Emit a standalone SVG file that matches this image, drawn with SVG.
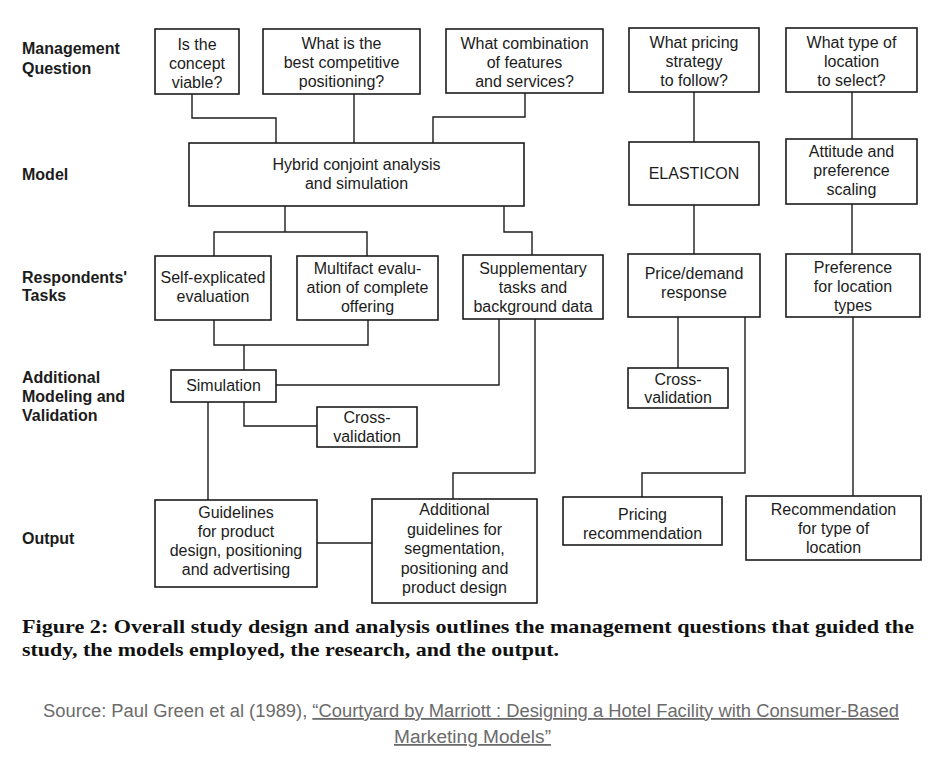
<svg xmlns="http://www.w3.org/2000/svg" width="936" height="768" viewBox="0 0 936 768">
<style>
  .bg{fill:#ffffff}
  .box{fill:#ffffff;stroke:#1c1c1c;stroke-width:1.6}
  .t{font-family:"Liberation Sans",Arial,sans-serif;font-size:16px;fill:#1c1c1c;text-anchor:middle}
  .lab{font-family:"Liberation Sans",Arial,sans-serif;font-size:16px;font-weight:bold;fill:#1c1c1c}
  .cap{font-family:"Liberation Serif","Times New Roman",serif;font-size:19px;font-weight:bold;fill:#111111}
  .src{font-family:"Liberation Sans",Arial,sans-serif;font-size:18px;fill:#6b6b6b}
  #connectors path{fill:none;stroke:#1c1c1c;stroke-width:1.4}
</style>
<rect class="bg" x="0" y="0" width="936" height="768"/>

<g id="row-labels">
  <text class="lab" x="22" y="54">Management</text>
  <text class="lab" x="22" y="74">Question</text>
  <text class="lab" x="22" y="180">Model</text>
  <text class="lab" x="22" y="283">Respondents'</text>
  <text class="lab" x="22" y="301">Tasks</text>
  <text class="lab" x="22" y="383">Additional</text>
  <text class="lab" x="22" y="402">Modeling and</text>
  <text class="lab" x="22" y="421">Validation</text>
  <text class="lab" x="22" y="544">Output</text>
</g>

<g id="connectors">
  <path d="M192,94 V118 H276 V143"/>
  <path d="M354,94 V143"/>
  <path d="M525,93 V117 H433 V143"/>
  <path d="M285,206 V232"/>
  <path d="M214,256 V232 H367 V256"/>
  <path d="M504,206 V232 H532 V255"/>
  <path d="M214,320 V345 H368 V320"/>
  <path d="M244,345 V370"/>
  <path d="M499,319 V385 H276"/>
  <path d="M244,402 V426 H317"/>
  <path d="M208,402 V500"/>
  <path d="M535,319 V473 H453 V499"/>
  <path d="M317,543 H372"/>
  <path d="M694,92 V142"/>
  <path d="M694,205 V254"/>
  <path d="M678,317 V368"/>
  <path d="M745,317 V473 H642 V497"/>
  <path d="M852,92 V139"/>
  <path d="M852,204 V254"/>
  <path d="M853,317 V496"/>
</g>

<g id="q-viable">
  <rect class="box" x="155" y="29" width="84" height="65"/>
  <text class="t" x="197" y="50">Is the</text>
  <text class="t" x="197" y="69">concept</text>
  <text class="t" x="197" y="88">viable?</text>
</g>
<g id="q-positioning">
  <rect class="box" x="263" y="29" width="157" height="65"/>
  <text class="t" x="341.5" y="49">What is the</text>
  <text class="t" x="341.5" y="68">best competitive</text>
  <text class="t" x="341.5" y="87">positioning?</text>
</g>
<g id="q-features">
  <rect class="box" x="446" y="29" width="157" height="64"/>
  <text class="t" x="524.5" y="49">What combination</text>
  <text class="t" x="524.5" y="68">of features</text>
  <text class="t" x="524.5" y="87">and services?</text>
</g>
<g id="q-pricing">
  <rect class="box" x="629" y="28" width="130" height="64"/>
  <text class="t" x="694" y="48">What pricing</text>
  <text class="t" x="694" y="67">strategy</text>
  <text class="t" x="694" y="86">to follow?</text>
</g>
<g id="q-location">
  <rect class="box" x="786" y="28" width="131" height="64"/>
  <text class="t" x="851.5" y="48">What type of</text>
  <text class="t" x="851.5" y="67">location</text>
  <text class="t" x="851.5" y="86">to select?</text>
</g>

<g id="m-hybrid">
  <rect class="box" x="189" y="143" width="335" height="63"/>
  <text class="t" x="356.5" y="170">Hybrid conjoint analysis</text>
  <text class="t" x="356.5" y="189">and simulation</text>
</g>
<g id="m-elasticon">
  <rect class="box" x="629" y="142" width="130" height="63"/>
  <text class="t" x="694" y="179">ELASTICON</text>
</g>
<g id="m-attitude">
  <rect class="box" x="786" y="139" width="131" height="65"/>
  <text class="t" x="851.5" y="157">Attitude and</text>
  <text class="t" x="851.5" y="176">preference</text>
  <text class="t" x="851.5" y="195">scaling</text>
</g>

<g id="r-self">
  <rect class="box" x="155" y="256" width="116" height="64"/>
  <text class="t" x="213" y="283">Self-explicated</text>
  <text class="t" x="213" y="302">evaluation</text>
</g>
<g id="r-multifact">
  <rect class="box" x="297" y="256" width="141" height="64"/>
  <text class="t" x="367.5" y="274">Multifact evalu-</text>
  <text class="t" x="367.5" y="293">ation of complete</text>
  <text class="t" x="367.5" y="312">offering</text>
</g>
<g id="r-supplementary">
  <rect class="box" x="463" y="255" width="140" height="64"/>
  <text class="t" x="533" y="274">Supplementary</text>
  <text class="t" x="533" y="293">tasks and</text>
  <text class="t" x="533" y="312">background data</text>
</g>
<g id="r-price">
  <rect class="box" x="628" y="254" width="132" height="63"/>
  <text class="t" x="694" y="279">Price/demand</text>
  <text class="t" x="694" y="298">response</text>
</g>
<g id="r-preference">
  <rect class="box" x="786" y="254" width="134" height="63"/>
  <text class="t" x="853" y="273">Preference</text>
  <text class="t" x="853" y="292">for location</text>
  <text class="t" x="853" y="311">types</text>
</g>

<g id="a-simulation">
  <rect class="box" x="171" y="370" width="105" height="32"/>
  <text class="t" x="223.5" y="391">Simulation</text>
</g>
<g id="a-crossval-left">
  <rect class="box" x="317" y="407" width="100" height="40"/>
  <text class="t" x="367" y="423">Cross-</text>
  <text class="t" x="367" y="442">validation</text>
</g>
<g id="a-crossval-right">
  <rect class="box" x="628" y="368" width="100" height="40"/>
  <text class="t" x="678" y="385">Cross-</text>
  <text class="t" x="678" y="403">validation</text>
</g>

<g id="o-guidelines">
  <rect class="box" x="155" y="500" width="162" height="87"/>
  <text class="t" x="236" y="518">Guidelines</text>
  <text class="t" x="236" y="537">for product</text>
  <text class="t" x="236" y="556">design, positioning</text>
  <text class="t" x="236" y="575">and advertising</text>
</g>
<g id="o-additional">
  <rect class="box" x="372" y="499" width="165" height="104"/>
  <text class="t" x="454.5" y="515">Additional</text>
  <text class="t" x="454.5" y="534.5">guidelines for</text>
  <text class="t" x="454.5" y="554">segmentation,</text>
  <text class="t" x="454.5" y="573.5">positioning and</text>
  <text class="t" x="454.5" y="593">product design</text>
</g>
<g id="o-pricing">
  <rect class="box" x="563" y="497" width="159" height="48"/>
  <text class="t" x="642.5" y="520">Pricing</text>
  <text class="t" x="642.5" y="539">recommendation</text>
</g>
<g id="o-location">
  <rect class="box" x="746" y="496" width="175" height="64"/>
  <text class="t" x="833.5" y="515">Recommendation</text>
  <text class="t" x="833.5" y="534">for type of</text>
  <text class="t" x="833.5" y="553">location</text>
</g>

<g id="caption">
  <text class="cap" x="22" y="633" textLength="892" lengthAdjust="spacingAndGlyphs">Figure 2: Overall study design and analysis outlines the management questions that guided the</text>
  <text class="cap" x="22" y="656" textLength="537" lengthAdjust="spacingAndGlyphs">study, the models employed, the research, and the output.</text>
</g>

<g id="source">
  <text class="src" x="43" y="717" textLength="856" lengthAdjust="spacingAndGlyphs">Source: Paul Green et al (1989), <tspan text-decoration="underline">“Courtyard by Marriott : Designing a Hotel Facility with Consumer-Based</tspan></text>
  <text class="src" x="394" y="743" textLength="157" lengthAdjust="spacingAndGlyphs" text-decoration="underline">Marketing Models”</text>
</g>
</svg>
